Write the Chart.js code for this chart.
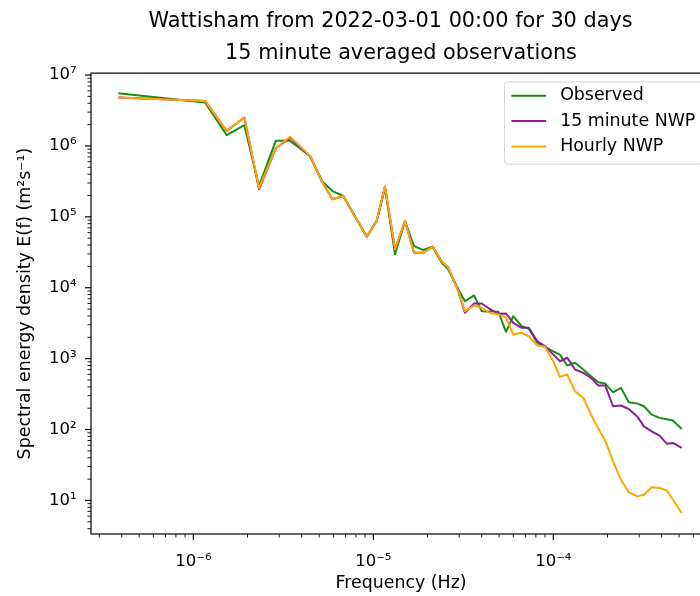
<!DOCTYPE html>
<html><head><meta charset="utf-8">
<script src="https://cdn.jsdelivr.net/npm/chart.js@4.4.0/dist/chart.umd.min.js"></script>
<style>
html,body{margin:0;padding:0;background:#fff;overflow:hidden;width:700px;height:596px;}
#wrap{position:relative;width:766px;height:596px;}
canvas{display:block;}
</style></head><body>
<div id="wrap"><canvas id="c" width="766" height="596"></canvas></div>
<script>
// ---- data ----
const frequencyHz = [3.83e-7,1.161e-6,1.533e-6,1.92e-6,2.317e-6,2.87e-6,3.445e-6,4.45e-6,5.17e-6,5.93e-6,6.81e-6,
  9.19e-6,1.044e-5,1.161e-5,1.32e-5,1.50e-5,1.683e-5,1.896e-5,2.138e-5,2.40e-5,2.61e-5,2.97e-5,3.23e-5,3.63e-5,
  4.0e-5,4.42e-5,4.95e-5,5.46e-5,5.99e-5,6.67e-5,7.31e-5,8.15e-5,8.99e-5,1.0e-4,1.089e-4,1.196e-4,1.32e-4,1.468e-4,
  1.62e-4,1.778e-4,1.945e-4,2.147e-4,2.377e-4,2.627e-4,2.936e-4,3.19e-4,3.52e-4,3.89e-4,4.27e-4,4.62e-4,5.17e-4];
const observed = [5.55e6,4.10e6,1.416e6,1.96e6,2.72e5,1.18e6,1.18e6,7.22e5,3.2e5,2.31e5,1.97e5,
  5.25e4,8.73e4,2.58e5,2.95e4,8.73e4,3.87e4,3.40e4,3.79e4,2.25e4,1.81e4,9.46e3,6.47e3,7.78e3,
  4.67e3,4.63e3,4.59e3,2.39e3,3.97e3,2.87e3,2.64e3,1.67e3,1.47e3,1.27e3,1.14e3,800,873,702,
  564,464,445,335,387,242,232,213,162,146,140,134,102];
const nwp15min = [4.83e6,4.32e6,1.63e6,2.52e6,2.45e5,9.27e5,1.3e6,7.22e5,3.2e5,1.77e5,1.97e5,
  5.25e4,8.73e4,2.65e5,3.47e4,8.73e4,3.12e4,3.12e4,3.79e4,2.35e4,1.92e4,8.87e3,4.44e3,6.0e3,
  6.0e3,5.05e3,4.29e3,4.33e3,3.2e3,2.72e3,2.72e3,1.76e3,1.50e3,1.14e3,919,1030,702,630,
  535,417,417,213,218,195,151,111,94.4,82,63.2,64.7,55];
const nwpHourly = [4.83e6,4.32e6,1.63e6,2.52e6,2.55e5,9.27e5,1.35e6,7.3e5,3.2e5,1.77e5,1.97e5,
  5.25e4,8.73e4,2.7e5,3.47e4,8.73e4,3.12e4,3.12e4,3.79e4,2.35e4,1.92e4,8.87e3,4.67e3,5.62e3,
  5.22e3,4.44e3,4.2e3,3.77e3,2.19e3,2.31e3,2.07e3,1.53e3,1.47e3,919,553,596,347,279,
  162,103,69.7,35.6,19.6,13.0,11.4,12.0,15.3,15.0,13.8,10.2,6.64];
const seriesLabels = ['Observed','15 minute NWP','Hourly NWP'];
const seriesColors = ['#168f16','#8c1f94','#FFA500'];
const xTickValues = [1e-6,1e-5,1e-4];
const xTickLabels = ['10⁻⁶','10⁻⁵','10⁻⁴'];
const yTickValues = [1e1,1e2,1e3,1e4,1e5,1e6,1e7];
const yTickLabels = ['10¹','10²','10³','10⁴','10⁵','10⁶','10⁷'];
const xRange = [2.70e-7, 7.52e-4];
const yRange = [3.36, 1.065e7];

// ---- helpers ----
const FONT = '"DejaVu Sans", "Liberation Sans", sans-serif';
Chart.defaults.font.family = FONT;
Chart.defaults.color = '#000';

function logTicks(min, max) {
  const out = [];
  for (let e = Math.floor(Math.log10(min)); e <= Math.ceil(Math.log10(max)); e++) {
    for (let m = 1; m <= 9; m++) {
      const v = m * Math.pow(10, e);
      if (v >= min * (1 - 1e-9) && v <= max * (1 + 1e-9)) out.push({value: v, major: m === 1});
    }
  }
  return out;
}
function labelFor(value, vals, labels) {
  const i = vals.findIndex(t => Math.abs(Math.log10(t) - Math.log10(value)) < 1e-6);
  return i >= 0 ? labels[i] : '';
}
const pts = ys => frequencyHz.map((f, i) => ({x: f, y: ys[i]}));

// ticks, frame and legend drawn in matplotlib style using the chart's scales
const mplAxes = {
  id: 'mplAxes',
  afterDraw(chart) {
    const ctx = chart.ctx, a = chart.chartArea;
    const xs = chart.scales.x, ys = chart.scales.y;
    ctx.save();
    ctx.strokeStyle = '#000';
    for (const t of xs.ticks) {
      const p = xs.getPixelForValue(t.value);
      if (p < a.left - 0.5 || p > a.right + 0.5) continue;
      ctx.lineWidth = t.major ? 1.2 : 0.9;
      ctx.beginPath(); ctx.moveTo(p, a.bottom); ctx.lineTo(p, a.bottom + (t.major ? 6 : 3.5)); ctx.stroke();
    }
    for (const t of ys.ticks) {
      const p = ys.getPixelForValue(t.value);
      if (p < a.top - 0.5 || p > a.bottom + 0.5) continue;
      ctx.lineWidth = t.major ? 1.2 : 0.9;
      ctx.beginPath(); ctx.moveTo(a.left, p); ctx.lineTo(a.left - (t.major ? 6 : 3.5), p); ctx.stroke();
    }
    ctx.lineWidth = 1.2;
    ctx.strokeRect(a.left, a.top, a.right - a.left, a.bottom - a.top);

    // legend
    const fs = 17.4;
    const bpad = 0.4 * fs, hl = 2 * fs, htp = 0.8 * fs, bap = 0.5 * fs;
    ctx.font = fs + 'px ' + FONT;
    const ds = chart.data.datasets;
    const tw = Math.max(...ds.map(d => ctx.measureText(d.label).width));
    const w = bpad + hl + htp + tw + bpad, h = 82.4;
    const right = a.right - bap, top = a.top + bap, left = right - w;
    ctx.beginPath();
    ctx.roundRect(left, top, w, h, 0.2 * fs);
    ctx.fillStyle = 'rgba(255,255,255,0.8)'; ctx.fill();
    ctx.strokeStyle = 'rgba(204,204,204,0.8)'; ctx.lineWidth = 1; ctx.stroke();
    ds.forEach((d, i) => {
      const cy = top + 14 + i * 25.3;
      ctx.strokeStyle = d.borderColor; ctx.lineWidth = d.borderWidth;
      ctx.beginPath(); ctx.moveTo(left + bpad, cy); ctx.lineTo(left + bpad + hl, cy); ctx.stroke();
      ctx.fillStyle = '#000'; ctx.textBaseline = 'middle'; ctx.textAlign = 'left';
      ctx.fillText(d.label, left + bpad + hl + htp, cy);
    });
    ctx.restore();
  }
};

const series = [observed, nwp15min, nwpHourly];
new Chart(document.getElementById('c'), {
  type: 'line',
  data: {
    datasets: series.map((s, i) => ({
      label: seriesLabels[i], data: pts(s), borderColor: seriesColors[i], backgroundColor: seriesColors[i],
      borderWidth: 2.0, pointRadius: 0, tension: 0, fill: false, yAxisID: 'y', xAxisID: 'x',
      borderJoinStyle: 'round', order: 2 - i
    }))
  },
  options: {
    responsive: false, animation: false, maintainAspectRatio: false,
    layout: {padding: {left: 15, right: 0, top: 0, bottom: 0}},
    plugins: {
      legend: {display: false},
      tooltip: {enabled: false},
      title: {display: true, text: 'Wattisham from 2022-03-01 00:00 for 30 days', fullSize: true,
        font: {size: 20.8, weight: 'normal'}, color: '#000', padding: {top: 9, bottom: 3.5}},
      subtitle: {display: true, text: '15 minute averaged observations', fullSize: false,
        font: {size: 20.8, weight: 'normal'}, color: '#000', padding: {top: 3.5, bottom: 7.2}}
    },
    scales: {
      x: {
        type: 'logarithmic', position: 'bottom', min: xRange[0], max: xRange[1], bounds: 'data',
        afterBuildTicks: s => { s.ticks = logTicks(xRange[0], xRange[1]); },
        afterFit: s => { s.height = 62; },
        grid: {display: true, drawOnChartArea: false, drawTicks: true, tickLength: 6, color: 'rgba(0,0,0,0)', tickColor: 'rgba(0,0,0,0)'},
        border: {display: false},
        ticks: {autoSkip: false, maxRotation: 0, minRotation: 0, padding: 12, color: '#000',
          font: {size: 16.5}, callback: v => labelFor(v, xTickValues, xTickLabels)},
        title: {display: true, text: 'Frequency (Hz)', color: '#000', font: {size: 17.4}, padding: {top: 0, bottom: 2.5}}
      },
      y: {
        type: 'logarithmic', position: 'left', min: yRange[0], max: yRange[1], bounds: 'data',
        afterBuildTicks: s => { s.ticks = logTicks(yRange[0], yRange[1]); },
        afterFit: s => { s.width = 76; },
        grid: {display: true, drawOnChartArea: false, drawTicks: true, tickLength: 6, color: 'rgba(0,0,0,0)', tickColor: 'rgba(0,0,0,0)'},
        border: {display: false},
        ticks: {autoSkip: false, padding: 8.5, color: '#000', font: {size: 16.5},
          callback: v => labelFor(v, yTickValues, yTickLabels)},
        title: {display: true, text: 'Spectral energy density E(f) (m²s⁻¹)', color: '#000', font: {size: 17.4}, padding: {top: 0, bottom: 0}}
      },
      yPad: {
        type: 'linear', position: 'right', display: true,
        grid: {display: false, drawTicks: false}, border: {display: false}, ticks: {display: false},
        afterFit: s => { s.width = 55; }
      }
    }
  },
  plugins: [mplAxes]
});
</script>
</body></html>
